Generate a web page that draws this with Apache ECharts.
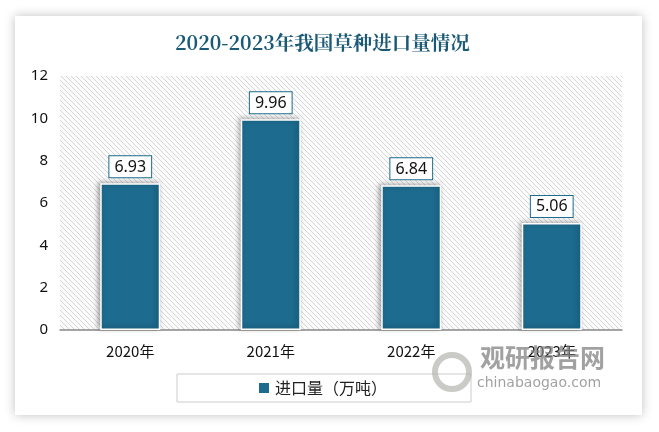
<!DOCTYPE html>
<html><head><meta charset="utf-8">
<script src="https://cdn.jsdelivr.net/npm/echarts@6/dist/echarts.min.js"></script>
<style>html,body{margin:0;padding:0;background:#fff}#c{width:659px;height:432px}</style>
</head><body><div id="c"></div>
<script>
const categories = ['2020年','2021年','2022年','2023年'];
const values = [6.93, 9.96, 6.84, 5.06];
const seriesName = '进口量（万吨）';
const titleText = '2020-2023年我国草种进口量情况';

const pc = document.createElement('canvas');
pc.width = 5; pc.height = 5;
const ctx = pc.getContext('2d');
ctx.fillStyle = '#fbfbfb'; ctx.fillRect(0,0,5,5);
ctx.strokeStyle = '#d6d6d6'; ctx.lineWidth = 1;
ctx.beginPath();
ctx.moveTo(0,0); ctx.lineTo(5,5);
ctx.moveTo(-3,2); ctx.lineTo(3,8);
ctx.moveTo(2,-3); ctx.lineTo(8,3);
ctx.stroke();

const chart = echarts.init(document.getElementById('c'));
chart.setOption({
  animation: false,
  graphic: [
    {type:'rect', z:-10, shape:{x:15,y:16,width:627,height:399}, style:{fill:'#fff', shadowBlur:10, shadowColor:'rgba(0,0,0,0.25)'}},
    {type:'rect', z:-5, shape:{x:60,y:76,width:562,height:254}, style:{fill:{image:pc, repeat:'repeat'}}},
    {type:'text', z:10, left:480, top:345, style:{text:'观研报告网', fill:'rgba(130,130,130,0.75)', font:'bold 25px "Noto Sans CJK SC"'}},
    {type:'text', z:10, left:477, top:376, style:{text:'chinabaogao.com', fill:'rgba(130,130,130,0.75)', font:'14px "DejaVu Sans"'}},
    {type:'circle', z:10, shape:{cx:452, cy:372, r:17}, style:{fill:'none', stroke:'rgba(180,180,175,0.7)', lineWidth:6}}
  ],
  title: {text: titleText, left:170, top:28, textStyle:{color:'#1b5a76', fontSize:19.5, fontWeight:'bold', fontFamily:'"Noto Serif CJK SC","Noto Sans CJK SC",serif'}},
  grid: {left:60, right:37, top:76, bottom:102},
  legend: {data:[seriesName], bottom:30, left:177, itemWidth:12, itemHeight:12, icon:'rect', itemGap:5,
    textStyle:{fontSize:16, color:'#222', fontFamily:'"Noto Sans CJK SC"'},
    backgroundColor:'#fff', borderColor:'#ccc', borderWidth:1, padding:[6,84,6,80]},
  xAxis: {type:'category', data:categories,
    axisLine:{lineStyle:{color:'#888', width:1.5}}, axisTick:{show:false},
    axisLabel:{fontSize:15, color:'#111', margin:14, fontFamily:'"Noto Sans CJK SC"'}},
  yAxis: {type:'value', min:0, max:12, interval:2,
    axisLine:{show:false}, axisTick:{show:false}, splitLine:{show:false},
    axisLabel:{fontSize:15, color:'#111', margin:12, fontFamily:'"Noto Sans","DejaVu Sans"'}},
  series: [{
    name: seriesName, type:'bar', data: values, barWidth:60,
    itemStyle:{color:'#1d6b8e', borderColor:'#fff', borderWidth:1.5, shadowBlur:5, shadowColor:'rgba(0,0,0,0.35)', shadowOffsetX:-2, shadowOffsetY:-1},
    label:{show:true, position:'top', distance:6, formatter: p => p.value.toFixed(2),
      fontSize:16, color:'#111', backgroundColor:'#fff', borderColor:'#1d6b8e', borderWidth:1, padding:[3,5,2,5],
      fontFamily:'"Noto Sans","DejaVu Sans"'}
  }]
});
</script></body></html>
